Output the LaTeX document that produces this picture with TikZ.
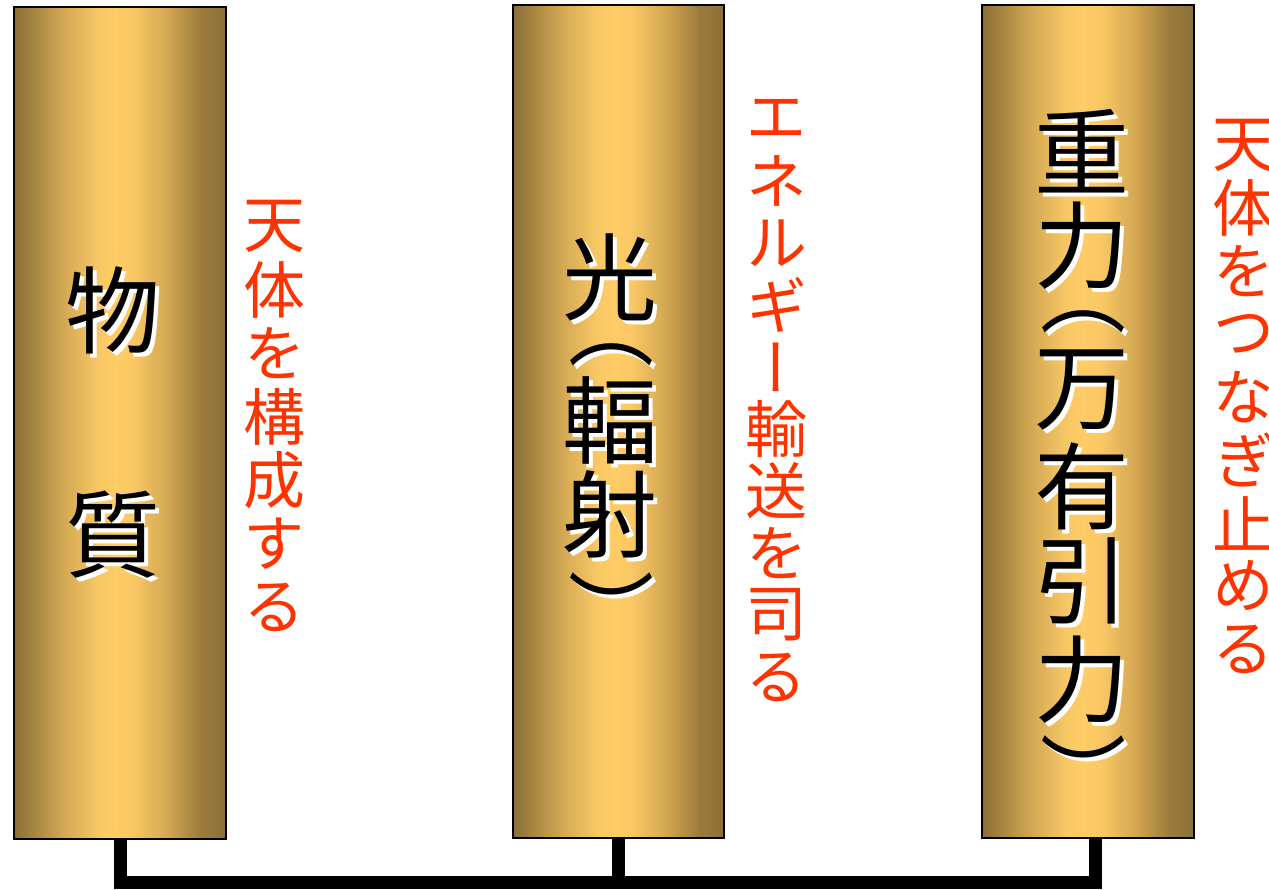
\documentclass[tikz,border=0pt]{standalone}
\usepackage{fontspec}
\newfontfamily\jpfont{Noto Sans CJK JP}
\newfontfamily\jpvfont[RawFeature=+vert]{Noto Sans CJK JP}
\definecolor{gA}{HTML}{8A6E37}
\definecolor{gB}{HTML}{A3823F}
\definecolor{gC}{HTML}{D8AC56}
\definecolor{gD}{HTML}{F8C865}
\definecolor{gE}{HTML}{FFCC66}
\definecolor{gF}{HTML}{FAC865}
\definecolor{gG}{HTML}{D4A853}
\definecolor{gH}{HTML}{9C7C3D}
\definecolor{gI}{HTML}{8C7038}
\definecolor{notered}{HTML}{FF3300}
\pgfdeclarehorizontalshading{goldbar}{100bp}{color(0bp)=(gA); color(25bp)=(gA); color(29bp)=(gB); color(37.5bp)=(gC); color(45bp)=(gD); color(49bp)=(gE); color(53bp)=(gF); color(61bp)=(gG); color(69bp)=(gH); color(75bp)=(gI); color(100bp)=(gI)}
\tikzset{
  pillar/.style={draw=black, line width=2.5pt, shading=goldbar, minimum width=212pt, minimum height=832pt, inner sep=0pt, outer sep=0pt},
  kanji/.style={font=\jpfont\fontsize{95}{95}\selectfont, text=black, inner sep=0pt, anchor=center},
  kshadow/.style={kanji, text=white},
  paren/.style={font=\jpfont\fontsize{86}{86}\selectfont},
  note/.style={font=\jpvfont\fontsize{62}{62}\selectfont, text=notered, inner sep=0pt, anchor=center},
  conn/.style={line width=13pt, draw=black}
}
\newcommand\kj[4]{\node[kshadow] (#1s) at ({#2+4},{#3+4}) {#4};\node[kanji] (#1) at (#2,#3) {#4};}
\newcommand\kp[4]{\node[kshadow, paren] (#1s) at ({#2+4},{#3+4}) {#4};\node[kanji, paren] (#1) at (#2,#3) {#4};}
\begin{document}
\begin{tikzpicture}[x=1pt,y=-1pt]
\useasboundingbox (0,0) rectangle (1269,889);
\coordinate (bus) at (0,882.5);
% pillars
\node[pillar] (p1) at (120,423) {};
\node[pillar, minimum width=211pt, minimum height=833pt] (p2) at (618.5,421.5) {};
\node[pillar, minimum height=833pt] (p3) at (1088,421.5) {};
\coordinate (p3s) at ([xshift=7.5pt]p3.south);
% connectors
\draw[conn] (p1.south) -- (p1.south |- bus) -- (p3s |- bus) -- (p3s);
\draw[conn] (p2.south) -- (p2.south |- bus);
% pillar 1
\kj{m1}{113}{310}{物}
\kj{m2}{113}{535}{質}
% pillar 2
\kj{l1}{610}{277}{光}
\kp{l2}{611}{355}{︵}
\kj{l3}{610}{420}{輻}
\kj{l4}{610}{514}{射}
\kp{l5}{611}{609}{︶}
% pillar 3
\kj{g1}{1082}{151}{重}
\kj{g2}{1082}{246}{力}
\kp{g3}{1083}{322}{︵}
\kj{g4}{1082}{390}{万}
\kj{g5}{1082}{486}{有}
\kj{g6}{1082}{581}{引}
\kj{g7}{1082}{680}{力}
\kp{g8}{1083}{772}{︶}
% red notes
\foreach \c [count=\i from 0] in {天,体,を,構,成,す,る}
  \node[note] (a\i) at (274,{226+63.5*\i}) {\c};
\foreach \c [count=\i from 0] in {エ,ネ,ル,ギ,ー,輸,送,を,司,る}
  \node[note] (b\i) at (776,{119+62*\i}) {\c};
\foreach \c [count=\i from 0] in {天,体,を,つ,な,ぎ,止,め,る}
  \node[note] (c\i) at (1243,{145+63*\i}) {\c};
\end{tikzpicture}
\end{document}
